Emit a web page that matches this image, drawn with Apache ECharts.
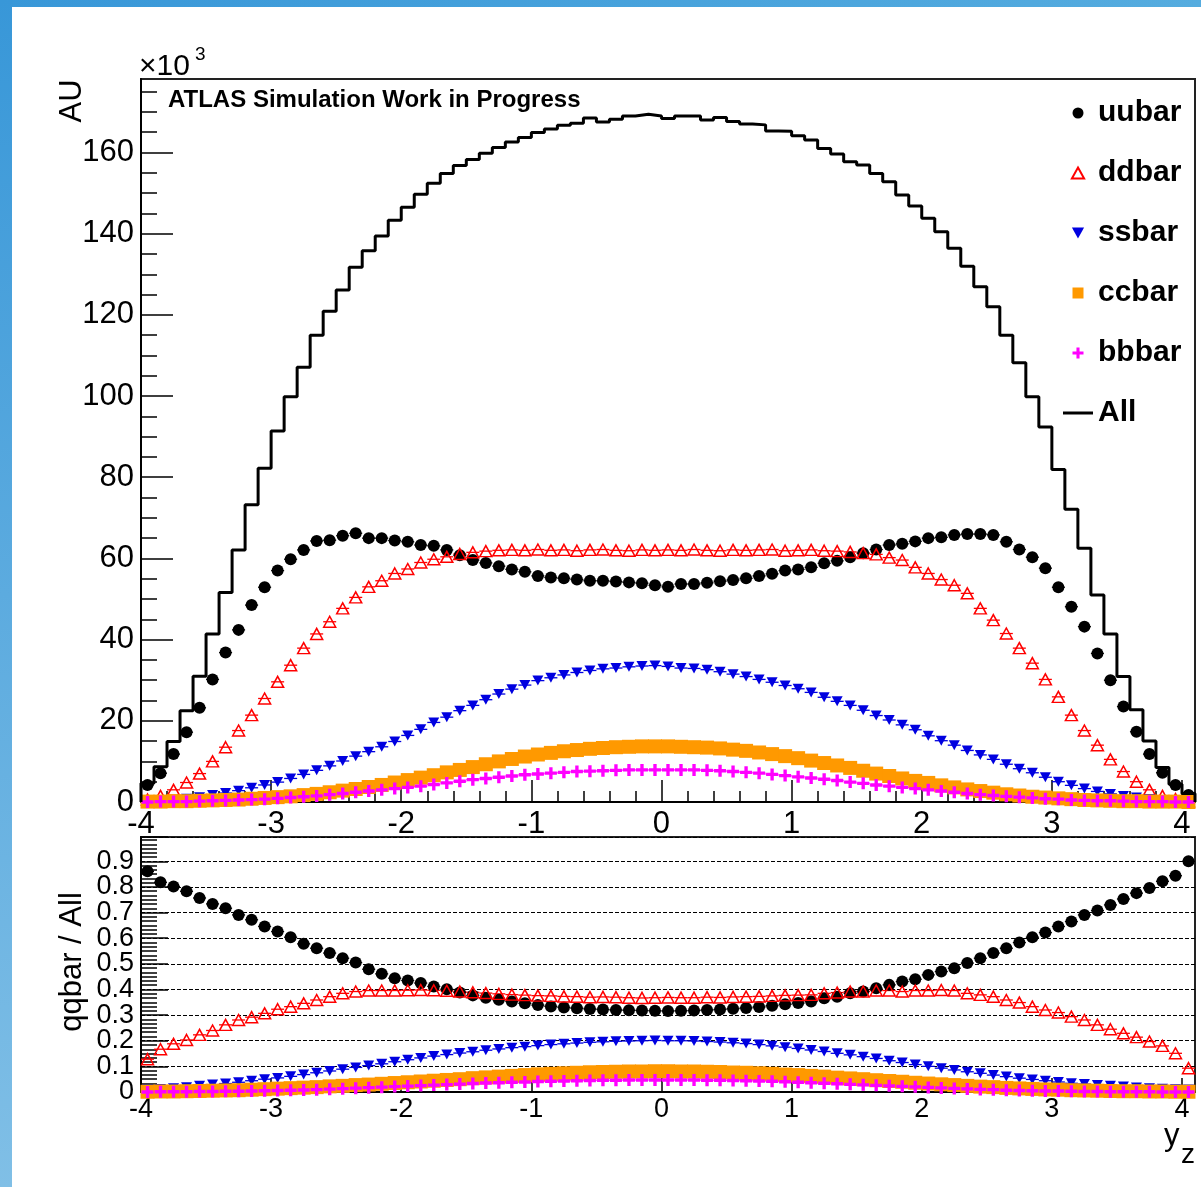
<!DOCTYPE html>
<html><head><meta charset="utf-8">
<script src="https://cdn.jsdelivr.net/npm/echarts@6.0.0/dist/echarts.min.js"></script>
<style>html,body{margin:0;padding:0;background:#fff}#c{width:1201px;height:1187px}</style>
</head><body><div id="c"></div><script>
// ---- binning of the histogram (81 bins of width 0.1 starting at -4) ----
const binLow = -4;
const binWidth = 0.1;

// ---- top panel: counts (x10^3) ----
const allCounts = [4.6, 8.7, 14.9, 22.5, 31.0, 41.4, 51.6, 62.1, 73.2, 82.2,
  91.4, 99.8, 107.1, 115.0, 120.9, 126.1, 131.7, 135.8, 139.4, 143.3,
  146.5, 149.7, 152.4, 154.8, 156.8, 158.3, 159.8, 161.2, 162.6, 163.7,
  164.9, 165.8, 166.7, 167.2, 168.5, 167.5, 168.2, 169.0, 169.4, 169.0,
  168.4, 169.0, 169.0, 168.0, 168.6, 167.6, 167.0, 166.8, 165.3, 165.2,
  164.1, 163.1, 161.0, 159.6, 157.7, 156.9, 154.8, 152.8, 149.5, 146.8,
  143.8, 140.5, 136.4, 132.0, 126.9, 122.0, 115.0, 108.2, 99.8, 92.4,
  81.9, 72.1, 62.5, 51.0, 41.4, 30.9, 22.7, 15.0, 8.5, 4.4, 2.1];
const uubar = [4.2, 7.1, 11.8, 17.2, 23.2, 30.2, 36.8, 42.4, 48.5, 52.9,
  57.0, 59.8, 62.1, 64.3, 64.5, 65.6, 66.2, 65.0, 65.0, 64.4,
  64.1, 63.3, 63.1, 62.1, 60.8, 59.6, 58.9, 58.1, 57.3, 56.7,
  55.7, 55.3, 55.1, 54.8, 54.5, 54.5, 54.3, 54.1, 53.9, 53.4,
  53.0, 53.7, 53.7, 54.0, 54.4, 54.7, 55.1, 55.7, 56.2, 57.0,
  57.3, 57.8, 58.8, 59.4, 60.3, 61.3, 62.2, 63.3, 63.6, 64.2,
  65.0, 65.2, 65.8, 66.0, 66.0, 65.8, 64.1, 62.2, 60.3, 57.6,
  52.9, 48.1, 43.2, 36.6, 30.0, 23.5, 17.3, 11.8, 7.2, 4.2, 1.7];
const ddbar = [0.6, 1.5, 3.0, 4.8, 7.0, 10.0, 13.5, 17.6, 21.4, 25.5,
  29.6, 33.7, 37.9, 41.4, 44.4, 47.7, 50.4, 53.0, 54.5, 56.3,
  57.4, 59.0, 59.8, 60.4, 61.1, 61.5, 61.8, 62.0, 62.1, 62.0,
  62.2, 62.0, 62.1, 61.9, 62.1, 62.2, 62.0, 61.9, 62.1, 62.0,
  62.1, 62.0, 62.2, 62.0, 61.9, 62.1, 62.0, 62.1, 62.2, 61.9,
  62.0, 62.1, 61.9, 61.8, 61.6, 61.3, 61.0, 60.2, 59.6, 57.8,
  56.3, 54.8, 53.4, 51.4, 47.7, 44.8, 41.5, 37.9, 34.2, 30.2,
  25.9, 21.4, 17.6, 14.0, 10.5, 7.5, 5.0, 3.0, 1.5, 0.7, 0.2];
const ssbar = [0.2, 0.3, 0.5, 0.8, 1.2, 1.7, 2.2, 2.8, 3.5, 4.2,
  4.9, 5.8, 6.8, 7.8, 8.9, 10.1, 11.3, 12.4, 13.6, 14.9,
  16.4, 17.9, 19.6, 20.9, 22.5, 23.8, 25.2, 26.6, 27.8, 28.8,
  29.9, 30.6, 31.3, 31.9, 32.4, 32.8, 33.0, 33.3, 33.5, 33.6,
  33.4, 33.0, 32.9, 32.6, 32.1, 31.5, 30.9, 30.2, 29.5, 28.7,
  27.9, 27.0, 25.8, 24.8, 23.8, 22.6, 21.3, 20.2, 19.0, 17.8,
  16.3, 15.1, 14.0, 12.7, 11.6, 10.5, 9.3, 8.2, 7.2, 6.1,
  5.0, 4.1, 3.3, 2.6, 2.0, 1.5, 1.1, 0.7, 0.5, 0.3, 0.1];
const ccbar = [0.1, 0.1, 0.2, 0.2, 0.3, 0.4, 0.5, 0.6, 0.8, 1.0,
  1.2, 1.4, 1.7, 2.0, 2.4, 2.8, 3.2, 3.7, 4.2, 4.8,
  5.4, 6.0, 6.6, 7.3, 7.9, 8.6, 9.3, 10.0, 10.6, 11.2,
  11.7, 12.1, 12.5, 12.8, 13.1, 13.3, 13.5, 13.6, 13.7, 13.7,
  13.7, 13.6, 13.5, 13.4, 13.2, 12.9, 12.6, 12.2, 11.8, 11.3,
  10.8, 10.2, 9.6, 9.0, 8.4, 7.7, 7.0, 6.4, 5.8, 5.2,
  4.7, 4.1, 3.6, 3.1, 2.7, 2.3, 1.9, 1.6, 1.3, 1.1,
  0.9, 0.7, 0.5, 0.4, 0.3, 0.2, 0.2, 0.1, 0.1, 0.1, 0.0];
const bbbar = [0.0, 0.1, 0.1, 0.1, 0.2, 0.3, 0.4, 0.5, 0.6, 0.7,
  0.9, 1.1, 1.3, 1.5, 1.8, 2.1, 2.4, 2.7, 3.0, 3.3,
  3.6, 3.9, 4.3, 4.7, 5.1, 5.5, 5.8, 6.1, 6.4, 6.7,
  6.9, 7.1, 7.3, 7.5, 7.6, 7.7, 7.8, 7.9, 7.9, 7.9,
  7.9, 7.9, 7.9, 7.8, 7.7, 7.5, 7.3, 7.1, 6.8, 6.5,
  6.2, 5.9, 5.6, 5.3, 4.9, 4.6, 4.2, 3.9, 3.6, 3.3,
  3.0, 2.7, 2.4, 2.1, 1.8, 1.6, 1.4, 1.2, 1.0, 0.8,
  0.7, 0.5, 0.4, 0.3, 0.3, 0.2, 0.1, 0.1, 0.1, 0.0, 0.0];

// ---- bottom panel: qqbar / All ----
const ratioUU = [0.861, 0.818, 0.802, 0.783, 0.757, 0.734, 0.717, 0.691, 0.672, 0.646,
  0.626, 0.604, 0.578, 0.561, 0.542, 0.522, 0.505, 0.479, 0.461, 0.444,
  0.435, 0.425, 0.412, 0.401, 0.388, 0.377, 0.368, 0.360, 0.353, 0.346,
  0.339, 0.334, 0.330, 0.327, 0.324, 0.322, 0.320, 0.319, 0.318, 0.317,
  0.316, 0.317, 0.318, 0.320, 0.322, 0.325, 0.328, 0.332, 0.337, 0.342,
  0.347, 0.353, 0.366, 0.372, 0.385, 0.392, 0.405, 0.418, 0.431, 0.440,
  0.457, 0.470, 0.483, 0.503, 0.522, 0.542, 0.561, 0.583, 0.604, 0.622,
  0.646, 0.665, 0.691, 0.708, 0.730, 0.753, 0.776, 0.796, 0.822, 0.844, 0.900];
const ratioDD = [0.128, 0.167, 0.188, 0.203, 0.223, 0.240, 0.262, 0.281, 0.292, 0.307,
  0.323, 0.333, 0.346, 0.359, 0.372, 0.385, 0.392, 0.396, 0.396, 0.396,
  0.397, 0.398, 0.397, 0.395, 0.392, 0.389, 0.386, 0.383, 0.380, 0.378,
  0.376, 0.375, 0.373, 0.372, 0.370, 0.371, 0.370, 0.368, 0.367, 0.368,
  0.369, 0.368, 0.368, 0.370, 0.369, 0.371, 0.372, 0.373, 0.375, 0.377,
  0.378, 0.379, 0.385, 0.388, 0.392, 0.392, 0.396, 0.396, 0.392, 0.396,
  0.396, 0.398, 0.396, 0.385, 0.379, 0.372, 0.359, 0.349, 0.333, 0.320,
  0.310, 0.294, 0.281, 0.262, 0.245, 0.229, 0.214, 0.197, 0.180, 0.151, 0.093];
const ratioSS = [0.010, 0.012, 0.015, 0.019, 0.024, 0.029, 0.033, 0.038, 0.044, 0.050,
  0.055, 0.061, 0.068, 0.075, 0.082, 0.089, 0.096, 0.103, 0.110, 0.118,
  0.126, 0.133, 0.140, 0.146, 0.152, 0.157, 0.163, 0.168, 0.173, 0.177,
  0.181, 0.185, 0.188, 0.191, 0.194, 0.196, 0.198, 0.199, 0.200, 0.201,
  0.200, 0.200, 0.199, 0.197, 0.195, 0.192, 0.189, 0.185, 0.180, 0.175,
  0.170, 0.164, 0.158, 0.151, 0.145, 0.138, 0.131, 0.122, 0.115, 0.107,
  0.100, 0.093, 0.086, 0.079, 0.073, 0.066, 0.060, 0.054, 0.049, 0.044,
  0.039, 0.034, 0.031, 0.027, 0.024, 0.021, 0.018, 0.015, 0.013, 0.011, 0.010];
const ratioCC = [0.001, 0.002, 0.002, 0.003, 0.004, 0.005, 0.006, 0.007, 0.009, 0.011,
  0.013, 0.015, 0.017, 0.019, 0.022, 0.024, 0.027, 0.029, 0.032, 0.035,
  0.038, 0.041, 0.044, 0.047, 0.050, 0.054, 0.057, 0.060, 0.063, 0.066,
  0.069, 0.071, 0.073, 0.075, 0.077, 0.078, 0.079, 0.080, 0.080, 0.081,
  0.081, 0.080, 0.080, 0.079, 0.078, 0.076, 0.075, 0.073, 0.071, 0.068,
  0.066, 0.063, 0.060, 0.056, 0.053, 0.050, 0.046, 0.043, 0.040, 0.036,
  0.033, 0.030, 0.027, 0.024, 0.021, 0.019, 0.016, 0.014, 0.012, 0.010,
  0.009, 0.007, 0.006, 0.005, 0.004, 0.003, 0.003, 0.002, 0.002, 0.001, 0.001];
const ratioBB = [0.000, 0.001, 0.001, 0.001, 0.002, 0.002, 0.003, 0.003, 0.004, 0.005,
  0.006, 0.007, 0.008, 0.009, 0.011, 0.013, 0.015, 0.017, 0.019, 0.021,
  0.023, 0.025, 0.027, 0.029, 0.031, 0.033, 0.035, 0.036, 0.038, 0.039,
  0.041, 0.042, 0.043, 0.044, 0.045, 0.046, 0.046, 0.047, 0.047, 0.047,
  0.047, 0.047, 0.047, 0.046, 0.046, 0.045, 0.044, 0.043, 0.042, 0.040,
  0.038, 0.036, 0.034, 0.032, 0.030, 0.028, 0.026, 0.024, 0.022, 0.020,
  0.018, 0.016, 0.014, 0.012, 0.010, 0.009, 0.007, 0.006, 0.005, 0.004,
  0.004, 0.003, 0.002, 0.002, 0.001, 0.001, 0.001, 0.001, 0.000, 0.000, 0.000];

// ---- axis tick labels ----
const xTickLabels = [-4, -3, -2, -1, 0, 1, 2, 3, 4];
const yTopTickLabels = [0, 20, 40, 60, 80, 100, 120, 140, 160];
const yBotTickLabels = [0, 0.1, 0.2, 0.3, 0.4, 0.5, 0.6, 0.7, 0.8, 0.9];

// ---------------------------------------------------------------------
const FONT = "'Liberation Sans', Arial, Helvetica, sans-serif";
const nBins = allCounts.length;
const centers = allCounts.map((_, i) => +(binLow + binWidth * (i + 0.5)).toFixed(3));
const xMax = +(binLow + binWidth * nBins).toFixed(3);

const xMinorTicks = [];
for (let k = -20; k <= 20; k++) if (k % 5 !== 0) xMinorTicks.push(+(k * 0.2).toFixed(2));
const yTopMinor = [];
for (let v = 5; v <= 175; v += 5) if (v % 20 !== 0) yTopMinor.push(v);
// the ratio labels are so dense that they are split over two label layers (even / odd tenths)
const yBotLabelsEven = yBotTickLabels.filter((_, i) => i % 2 === 0);
const yBotLabelsOdd = yBotTickLabels.filter((_, i) => i % 2 === 1);

const pairs = arr => arr.map((v, i) => [centers[i], v]);
const histData = [[binLow, 0]];
allCounts.forEach((v, i) => histData.push([+(binLow + binWidth * i).toFixed(3), v]));
histData.push([xMax, allCounts[nBins - 1]]);
histData.push([xMax, 0]);

const upTri = 'path://M5,0L10,9H0Z';
const downTri = 'path://M0,0L10,0L5,9Z';
const square = 'path://M0,0H10V10H0Z';
const plusPath = 'path://M3.6,0H6.4V3.6H10V6.4H6.4V10H3.6V6.4H0V3.6H3.6Z';

const species = [
  { name: 'uubar', top: uubar, ratio: ratioUU, color: '#000000', symbol: 'circle', size: 12,
    legendIcon: 'circle', itemStyle: { color: '#000000', opacity: 1 } },
  { name: 'ddbar', top: ddbar, ratio: ratioDD, color: '#ff0000', symbol: upTri, size: [12, 11],
    legendIcon: upTri, itemStyle: { color: 'rgba(255,255,255,0)', borderColor: '#ff0000', borderWidth: 1.5, opacity: 1 } },
  { name: 'ssbar', top: ssbar, ratio: ratioSS, color: '#0000e0', symbol: downTri, size: [11, 10],
    legendIcon: downTri, itemStyle: { color: '#0000e0', opacity: 1 } },
  { name: 'ccbar', top: ccbar, ratio: ratioCC, color: '#ff9900', symbol: square, size: 14,
    legendIcon: square, itemStyle: { color: '#ff9900', opacity: 1 } },
  { name: 'bbbar', top: bbbar, ratio: ratioBB, color: '#ff00ff', symbol: plusPath, size: 12,
    legendIcon: plusPath, itemStyle: { color: '#ff00ff', opacity: 1 } }
];

function errorBars(sp, data, xi, yi) {
  return {
    type: 'custom', name: sp.name + ' error', xAxisIndex: xi, yAxisIndex: yi, z: 2, silent: true,
    itemStyle: { color: sp.color },
    data: data,
    renderItem: (params, api) => {
      const x = api.value(0), y = api.value(1);
      const p1 = api.coord([x - binWidth / 2, y]);
      const p2 = api.coord([x + binWidth / 2, y]);
      return { type: 'line', shape: { x1: p1[0], y1: p1[1], x2: p2[0], y2: p2[1] },
        style: { stroke: sp.color, lineWidth: 1.3 } };
    }
  };
}
function markers(sp, data, xi, yi) {
  return {
    type: 'scatter', name: sp.name, xAxisIndex: xi, yAxisIndex: yi, z: 3,
    symbol: sp.symbol, symbolSize: sp.size, symbolKeepAspect: false,
    itemStyle: sp.itemStyle, data: data, emphasis: { disabled: true }, clip: false
  };
}

const series = [];
species.forEach(sp => series.push(markers(sp, pairs(sp.top), 0, 0)));
species.forEach(sp => series.push(errorBars(sp, pairs(sp.top), 0, 0)));
series.push({
  type: 'line', name: 'All', xAxisIndex: 0, yAxisIndex: 0, z: 4, step: 'end',
  showSymbol: false, symbol: 'none', data: histData,
  lineStyle: { color: '#000000', width: 3 }, itemStyle: { color: '#000000' },
  emphasis: { disabled: true }
});
species.forEach(sp => series.push(errorBars(sp, pairs(sp.ratio), 2, 2)));
species.forEach(sp => series.push(markers(sp, pairs(sp.ratio), 2, 2)));

const tickLine = { color: '#000', width: 1.5 };
const labelStyle = (size) => ({ fontSize: size, fontFamily: FONT, color: '#000' });

const option = {
  animation: false,
  backgroundColor: '#ffffff',
  grid: [
    { left: 141, top: 79, width: 1054, height: 723, show: true, borderColor: '#222', borderWidth: 2, backgroundColor: 'transparent' },
    { left: 141, top: 837, width: 1054, height: 255, show: true, borderColor: '#222', borderWidth: 2, backgroundColor: 'transparent' }
  ],
  xAxis: [
    { type: 'value', gridIndex: 0, position: 'bottom', min: binLow, max: xMax, interval: 1,
      axisLine: { onZero: false, lineStyle: { color: '#000', width: 2 } },
      axisTick: { inside: true, length: 22, lineStyle: tickLine, customValues: xTickLabels },
      axisLabel: Object.assign({ customValues: xTickLabels, margin: 7, showMinLabel: true, showMaxLabel: true }, labelStyle(31)),
      splitLine: { show: false } },
    { type: 'value', gridIndex: 0, position: 'bottom', min: binLow, max: xMax, interval: 1,
      axisLine: { show: false, onZero: false },
      axisTick: { inside: true, length: 11, lineStyle: tickLine, customValues: xMinorTicks },
      axisLabel: { show: false }, splitLine: { show: false } },
    { type: 'value', gridIndex: 1, position: 'bottom', min: binLow, max: xMax, interval: 1,
      axisLine: { onZero: false, lineStyle: { color: '#000', width: 2 } },
      axisTick: { inside: true, length: 14, lineStyle: tickLine, customValues: xTickLabels },
      axisLabel: Object.assign({ customValues: xTickLabels, margin: 4, showMinLabel: true, showMaxLabel: true }, labelStyle(27)),
      splitLine: { show: false } }
  ],
  yAxis: [
    { type: 'value', gridIndex: 0, position: 'left', min: 0, max: 178.1, interval: 20,
      axisLine: { onZero: false, lineStyle: { color: '#000', width: 2 } },
      axisTick: { inside: true, length: 32, lineStyle: tickLine, customValues: yTopTickLabels },
      axisLabel: Object.assign({ customValues: yTopTickLabels, margin: 7, showMinLabel: true }, labelStyle(31)),
      splitLine: { show: false } },
    { type: 'value', gridIndex: 0, position: 'left', min: 0, max: 178.1, interval: 20,
      axisLine: { show: false, onZero: false },
      axisTick: { inside: true, length: 16, lineStyle: tickLine, customValues: yTopMinor },
      axisLabel: { show: false }, splitLine: { show: false } },
    { type: 'value', gridIndex: 1, position: 'left', min: 0, max: 0.995, interval: 0.1,
      axisLine: { onZero: false, lineStyle: { color: '#000', width: 2 } },
      axisTick: { inside: true, length: 27, lineStyle: tickLine },
      minorTick: { show: true, splitNumber: 6, length: 16, lineStyle: tickLine },
      axisLabel: Object.assign({ customValues: yBotLabelsEven, margin: 7,
        showMinLabel: true, showMaxLabel: true }, labelStyle(27)),
      splitLine: { show: true, lineStyle: { color: '#000', width: 1, type: [4, 2] } },
      minorSplitLine: { show: false } },
    { type: 'value', gridIndex: 1, position: 'left', min: 0, max: 0.995, interval: 0.1,
      axisLine: { show: false, onZero: false },
      axisTick: { show: false },
      axisLabel: Object.assign({ customValues: yBotLabelsOdd, margin: 7,
        showMinLabel: true, showMaxLabel: true }, labelStyle(27)),
      splitLine: { show: false } }
  ],
  legend: {
    data: species.map(sp => ({ name: sp.name, icon: sp.legendIcon }))
      .concat([{ name: 'All', icon: 'path://M0,0H30V3H0Z' }]),
    orient: 'vertical', left: 1058, top: 93, itemWidth: 30, itemHeight: 11, itemGap: 30,
    selectedMode: false, symbolKeepAspect: true,
    textStyle: { fontSize: 30, fontWeight: 'bold', fontFamily: FONT, color: '#000', lineHeight: 30 }
  },
  graphic: [
    { type: 'rect', left: 0, top: 0, z: 100, silent: true, shape: { width: 1201, height: 7 },
      style: { fill: new echarts.graphic.LinearGradient(0, 0, 1, 0, [{ offset: 0, color: '#3897d8' }, { offset: 1, color: '#55acdf' }]) } },
    { type: 'rect', left: 0, top: 0, z: 100, silent: true, shape: { width: 12, height: 1187 },
      style: { fill: new echarts.graphic.LinearGradient(0, 0, 0, 1, [{ offset: 0, color: '#3897d8' }, { offset: 1, color: '#80bfe6' }]) } },
    { type: 'text', x: 72, y: 101, rotation: Math.PI / 2, silent: true,
      style: { text: 'AU', font: '31px ' + FONT, fill: '#000', align: 'center', verticalAlign: 'middle' } },
    { type: 'text', x: 139, y: 67, silent: true,
      style: { text: '×10', font: '30px ' + FONT, fill: '#000', align: 'left', verticalAlign: 'middle' } },
    { type: 'text', x: 195, y: 55, silent: true,
      style: { text: '3', font: '19px ' + FONT, fill: '#000', align: 'left', verticalAlign: 'middle' } },
    { type: 'text', x: 168, y: 100, silent: true,
      style: { text: 'ATLAS Simulation Work in Progress', font: 'bold 24px ' + FONT, fill: '#000', align: 'left', verticalAlign: 'middle' } },
    { type: 'text', x: 72, y: 962, rotation: Math.PI / 2, silent: true,
      style: { text: 'qqbar / All', font: '31px ' + FONT, fill: '#000', align: 'center', verticalAlign: 'middle' } },
    { type: 'text', x: 1164, y: 1136, silent: true,
      style: { text: 'y', font: '31px ' + FONT, fill: '#000', align: 'left', verticalAlign: 'middle' } },
    { type: 'text', x: 1181, y: 1155, silent: true,
      style: { text: 'z', font: '28px ' + FONT, fill: '#000', align: 'left', verticalAlign: 'middle' } }
  ],
  series: series
};

const chart = echarts.init(document.getElementById('c'));
chart.setOption(option);
</script></body></html>
